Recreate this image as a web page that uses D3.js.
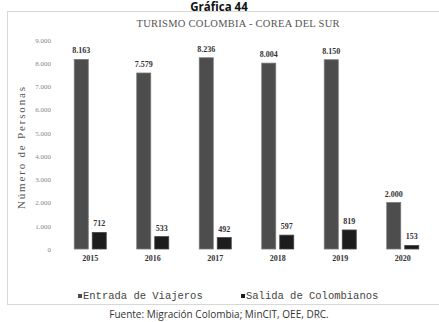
<!DOCTYPE html>
<html><head><meta charset="utf-8">
<script src="https://cdn.jsdelivr.net/npm/d3@7"></script>
<style>body{margin:0;background:#fff}svg{display:block}</style>
</head><body>
<svg id="c" width="439" height="322"></svg>
<script>
const years = ["2015","2016","2017","2018","2019","2020"];
const entrada = [8163, 7579, 8236, 8004, 8150, 2000];
const salida = [712, 533, 492, 597, 819, 153];
const yTicks = [0,1000,2000,3000,4000,5000,6000,7000,8000,9000];
const seriesNames = ["Entrada de Viajeros","Salida de Colombianos"];
const colors = ["#4d4d4d","#1c1c1c"];

const svg = d3.select("#c");
const fmt = v => d3.format(",")(v).replace(/,/g, ".");

// chart frame
svg.append("rect").attr("x",7.5).attr("y",11.5).attr("width",440).attr("height",293)
  .attr("fill","#fff").attr("stroke","#d8d8d8");

// page heading
svg.append("text").attr("x",219).attr("y",10.5).attr("text-anchor","middle")
  .attr("font-family","Open Sans, sans-serif").attr("font-weight","bold").attr("font-size",11.5)
  .attr("fill","#111").text("Gráfica 44");

svg.append("text").attr("x",238).attr("y",27).attr("text-anchor","middle")
  .attr("font-family","Liberation Serif, serif").attr("font-size",10.5)
  .attr("textLength",203).attr("lengthAdjust","spacing")
  .attr("fill","#555").text("TURISMO COLOMBIA - COREA DEL SUR");

const y = d3.scaleLinear().domain([0,9000]).range([249,40]);
const x = d3.scaleBand().domain(years).range([59,434]);
const xs = d3.scaleBand().domain([0,1]).range([-16,16]).paddingInner(0.222);

// y tick labels
const yAxis = d3.axisLeft(y).tickValues(yTicks).tickSize(0).tickPadding(0)
  .tickFormat(d => d===0 ? "0" : fmt(d));
const ga = svg.append("g").attr("transform","translate(51,0)").call(yAxis);
ga.select(".domain").remove();
ga.selectAll("text").attr("font-family","Liberation Serif, serif").attr("font-size",7)
  .attr("fill","#888");

svg.append("text").attr("transform","translate(25,148) rotate(-90)").attr("text-anchor","middle")
  .attr("font-family","Liberation Serif, serif").attr("font-size",11).attr("fill","#555")
  .attr("textLength",122).attr("lengthAdjust","spacing")
  .text("Número de Personas");

const data = years.map((yr,i)=>({yr, vals:[entrada[i], salida[i]]}));
const g = svg.selectAll("g.grp").data(data).enter().append("g").attr("class","grp")
  .attr("transform", d => `translate(${x(d.yr)+x.bandwidth()/2},0)`);

g.selectAll("rect").data(d => d.vals.map((v,k)=>({v,k}))).enter().append("rect")
  .attr("x", d => xs(d.k)).attr("width", xs.bandwidth())
  .attr("y", d => y(d.v)).attr("height", d => y(0)-y(d.v))
  .attr("fill", d => colors[d.k]).attr("stroke", d => d.k===0 ? "#777" : "#444").attr("stroke-width",0.8);

g.selectAll("text.val").data(d => d.vals.map((v,k)=>({v,k}))).enter().append("text")
  .attr("class","val").attr("x", d => xs(d.k)+xs.bandwidth()/2).attr("y", d => y(d.v)-6)
  .attr("text-anchor","middle").attr("font-family","Liberation Serif, serif")
  .attr("font-weight","bold").attr("font-size",8).attr("fill","#333").text(d => fmt(d.v));

g.append("text").attr("x",0).attr("y",261).attr("text-anchor","middle")
  .attr("font-family","Liberation Serif, serif").attr("font-weight","bold").attr("font-size",8)
  .attr("fill","#333").text(d => d.yr);

// legend
const legX = [78, 241];
seriesNames.forEach((n,k)=>{
  svg.append("rect").attr("x",legX[k]).attr("y",294).attr("width",4).attr("height",4).attr("fill",colors[k]);
  svg.append("text").attr("x",legX[k]+5).attr("y",299).attr("font-family","Liberation Mono, monospace")
    .attr("font-size",10.5).attr("fill","#444").text(n);
});

svg.append("text").attr("x",219).attr("y",318).attr("text-anchor","middle")
  .attr("font-family","Open Sans, sans-serif").attr("font-size",10)
  .attr("fill","#333").text("Fuente: Migración Colombia; MinCIT, OEE, DRC.");
</script>
</body></html>
